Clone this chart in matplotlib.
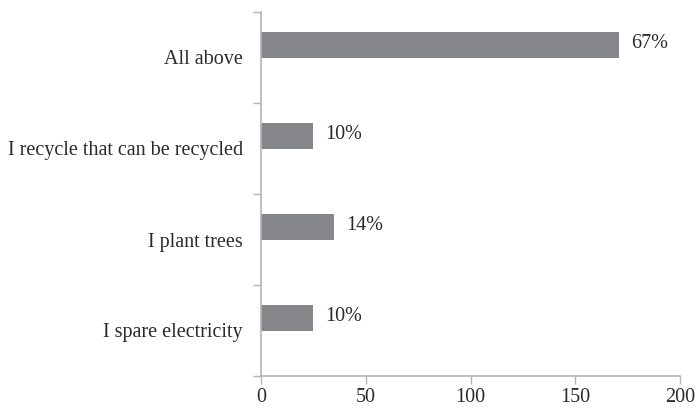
import matplotlib
matplotlib.use("Agg")
import matplotlib.pyplot as plt
import numpy as np

# Responses, listed from bottom to top of the chart
categories = ["I spare electricity", "I plant trees",
              "I recycle that can be recycled", "All above"]
counts = [25, 35, 25, 171]
percent_labels = ["10%", "14%", "10%", "67%"]
x_ticks = [0, 50, 100, 150, 200]

plt.rcParams["font.family"] = ["Liberation Serif", "DejaVu Serif"]
text_color = "#2a2a2a"
axis_color = "#b4b4b4"
bar_color = "#86878a"
fs = 14.5

fig = plt.figure(figsize=(6.96, 4.12), dpi=100)
ax = fig.add_axes([261 / 696, 1 - 376 / 412, (680 - 261) / 696, (376 - 12) / 412])

y = np.arange(len(categories))
bar_h = 0.285
ax.barh(y, counts, height=bar_h, align="edge", color=bar_color, zorder=2)

for yi, c, lab in zip(y, counts, percent_labels):
    ax.text(c + 5.5, yi + bar_h / 2 + 0.01, lab, va="center", ha="left",
            fontsize=fs, color=text_color)

ax.set_xlim(0, 200)
ax.set_ylim(-0.5, len(categories) - 0.5)
ax.set_xticks(x_ticks)
ax.set_xticklabels([str(t) for t in x_ticks])

# category boundaries carry tick marks, category centres carry the labels
ax.set_yticks(np.arange(-0.5, len(categories), 1.0))
ax.set_yticklabels([])
ax.set_yticks(y, minor=True)
ax.set_yticklabels(categories, minor=True)
ax.tick_params(axis="y", which="minor", length=0, pad=13, labelsize=fs,
               labelcolor=text_color)
ax.tick_params(axis="y", which="major", length=6, width=1, color=axis_color,
               direction="out")
ax.tick_params(axis="x", length=6, width=1, color=axis_color, direction="out",
               labelsize=fs, labelcolor=text_color, pad=3)

for side in ("top", "right"):
    ax.spines[side].set_visible(False)
for side in ("left", "bottom"):
    ax.spines[side].set_color(axis_color)
    ax.spines[side].set_linewidth(1.2)

fig.savefig("out.png", dpi=100)
